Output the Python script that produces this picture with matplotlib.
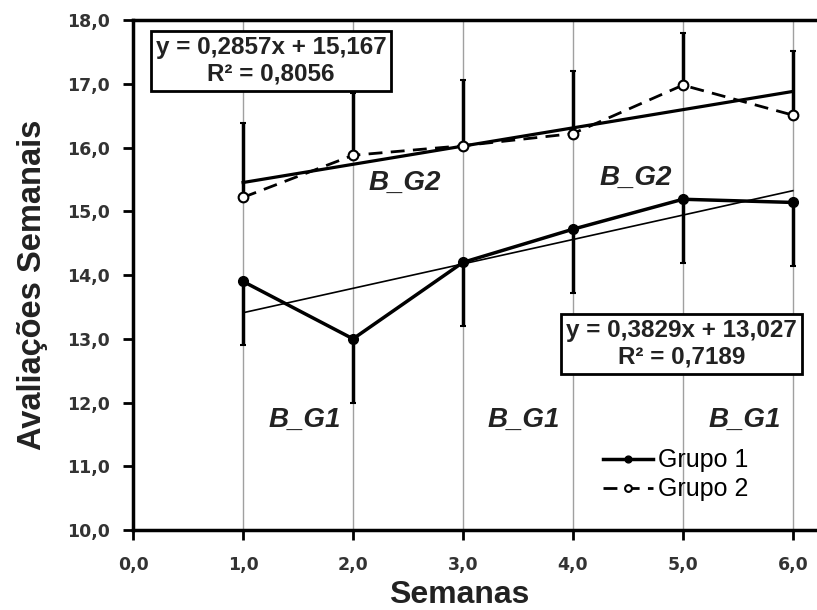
import matplotlib.pyplot as plt
import numpy as np

plt.rcParams['font.family'] = ['Liberation Sans', 'DejaVu Sans']

semanas = [1, 2, 3, 4, 5, 6]
grupo1 = [13.9, 13.0, 14.2, 14.72, 15.19, 15.14]
grupo2 = [15.22, 15.88, 16.03, 16.22, 16.98, 16.51]
err1 = [1.0, 1.0, 1.0, 1.0, 1.0, 1.0]
err2 = [1.17, 0.97, 1.03, 0.98, 0.82, 1.0]

trend1 = (0.3829, 13.027)
trend2 = (0.2857, 15.167)
eq1 = 'y = 0,3829x + 13,027\nR² = 0,7189'
eq2 = 'y = 0,2857x + 15,167\nR² = 0,8056'

xticks = [0, 1, 2, 3, 4, 5, 6]
yticks = [10, 11, 12, 13, 14, 15, 16, 17, 18]

fig = plt.figure(figsize=(8.17, 6.10), dpi=100)
ax = fig.add_axes([0.163, 0.131, 0.837, 0.836])

for x in semanas:
    ax.axvline(x, color='#a0a0a0', lw=1, zorder=0)

x = np.array(semanas)
# Grupo 1: lower error bars, solid line, filled dots
ax.errorbar(x, grupo1, yerr=[err1, [0] * 6], fmt='none', ecolor='black',
            elinewidth=2.5, capsize=2.5, capthick=1.5, zorder=3)
ax.plot(x, grupo1, '-', color='black', lw=2.5, marker='o', ms=7,
        mfc='black', mec='black', label='Grupo 1', zorder=4)
# Grupo 2: upper error bars, dashed line, open circles
ax.errorbar(x, grupo2, yerr=[[0] * 6, err2], fmt='none', ecolor='black',
            elinewidth=2.5, capsize=2.5, capthick=1.5, zorder=3)
ax.plot(x, grupo2, '--', color='black', lw=2, dashes=(5, 3), marker='o', ms=7,
        mfc='white', mec='black', mew=1.5, label='Grupo 2', zorder=4)

# trend lines
xt = np.array([1, 6])
ax.plot(xt, trend1[0] * xt + trend1[1], color='black', lw=1.2, zorder=3)
ax.plot(xt, trend2[0] * xt + trend2[1], color='black', lw=2.3, zorder=3)

box = dict(boxstyle='square,pad=0.2', fc='white', ec='black', lw=2)
ax.text(1.255, 17.36, eq2, ha='center', va='center', fontsize=17.5,
        fontweight='bold', color='#222222', linespacing=1.2, bbox=box, zorder=6)
ax.text(4.99, 12.92, eq1, ha='center', va='center', fontsize=17.5,
        fontweight='bold', color='#222222', linespacing=1.2, bbox=box, zorder=6)

lbl = dict(fontsize=20, fontweight='bold', fontstyle='italic', color='#222222',
           ha='center', va='center')
ax.text(2.47, 15.44, 'B_G2', **lbl)
ax.text(4.57, 15.52, 'B_G2', **lbl)
ax.text(1.56, 11.73, 'B_G1', **lbl)
ax.text(3.55, 11.73, 'B_G1', **lbl)
ax.text(5.56, 11.73, 'B_G1', **lbl)

ax.set_xlim(0, 6.22)
ax.set_ylim(10, 18)
ax.set_xticks(xticks)
ax.set_yticks(yticks)
ax.set_xticklabels([f'{v:.1f}'.replace('.', ',') for v in xticks])
ax.set_yticklabels([f'{v:.1f}'.replace('.', ',') for v in yticks])
ax.tick_params(labelsize=12.5, width=2, length=7, colors='black',
               labelcolor='#333333')
ax.tick_params(axis='x', pad=12)
ax.tick_params(axis='y', pad=10)
for lab in ax.get_xticklabels() + ax.get_yticklabels():
    lab.set_fontweight('bold')
    lab.set_family('DejaVu Sans')

for s in ['left', 'bottom', 'top']:
    ax.spines[s].set_linewidth(2.5)
ax.spines['right'].set_visible(False)

ax.set_xlabel('Semanas', fontsize=23, fontweight='bold', color='#222222')
ax.xaxis.set_label_coords(0.477, -0.097)
ax.set_ylabel('Avaliações Semanais', fontsize=23.5, fontweight='bold', color='#222222')
ax.yaxis.set_label_coords(-0.125, 0.48)

ax.legend(loc='upper left', bbox_to_anchor=(0.687, 0.16), frameon=False,
          fontsize=18, handlelength=2.0, handletextpad=0.2, labelspacing=0.2,
          borderpad=0, borderaxespad=0, markerscale=0.7)

fig.savefig('out.png', dpi=100)
